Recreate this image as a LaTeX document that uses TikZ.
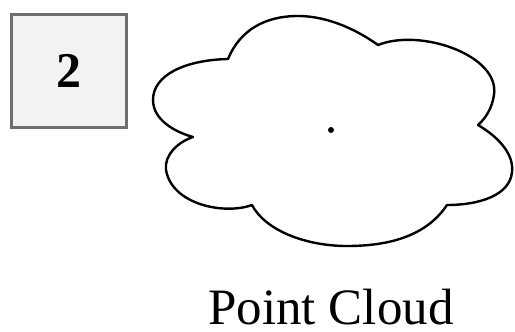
\documentclass[tikz,border=0pt]{standalone}
\usepackage{fontspec}
\setmainfont{Liberation Serif}
\usepackage{xcolor}
\usetikzlibrary{positioning,calc}

\definecolor{boxgray}{HTML}{6E6E6E}
\definecolor{boxfill}{HTML}{F2F2F2}

\begin{document}
\begin{tikzpicture}[x=1pt,y=-1pt,
	stepbox/.style={draw=boxgray,fill=boxfill,line width=2.8pt,minimum width=115pt,minimum height=113pt,inner sep=0pt},
	cloudline/.style={line width=2.4pt,line join=round}]
	% canvas
	\useasboundingbox (0,0) rectangle (515,332);
	
	% step number
	\node[stepbox,font=\bfseries\fontsize{50}{50}\selectfont] (step) at (69,71) {2};
	
	% cloud outline
	\draw[cloudline] (193,137)
		.. controls (175,132) and (153,120) .. (153,100)
		.. controls (153,75) and (185,60) .. (228,59)
		.. controls (240,30) and (265,16) .. (298,16)
		.. controls (330,16) and (360,32) .. (378,45)
		.. controls (420,28) and (500,55) .. (494,95)
		.. controls (492,108) and (486,118) .. (478,125)
		.. controls (500,138) and (514,155) .. (512,172)
		.. controls (510,195) and (480,205) .. (447,205)
		.. controls (425,238) and (385,246) .. (347,246)
		.. controls (305,246) and (265,230) .. (252,205)
		.. controls (225,215) and (172,205) .. (166,170)
		.. controls (164,155) and (178,142) .. cycle;
	
	% the single point
	\coordinate (pt) at (331,130);
	\fill (pt) circle (3pt);
	
	\node[font=\fontsize{51}{51}\selectfont,anchor=base,inner sep=0pt] (label) at (331,324) {Point Cloud};
\end{tikzpicture}
\end{document}
